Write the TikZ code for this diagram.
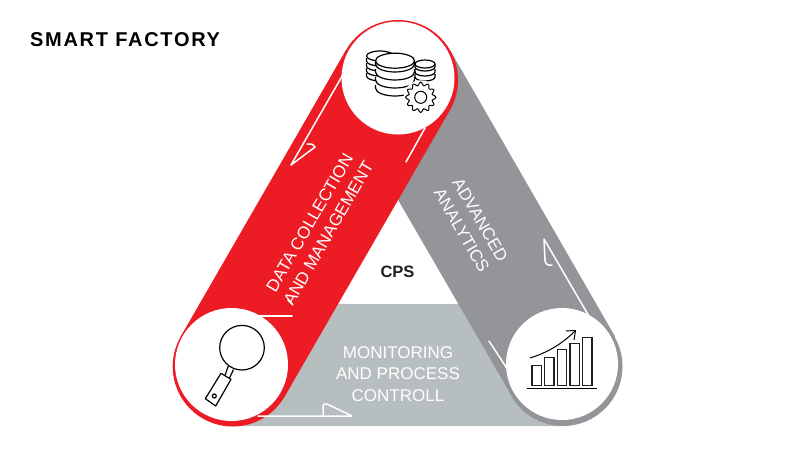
\documentclass[tikz,border=0pt]{standalone}
\usepackage{fontspec}
\setmainfont{Liberation Sans}
\definecolor{fred}{HTML}{ED1C24}
\definecolor{fgrey}{HTML}{939598}
\definecolor{flight}{HTML}{B7BEC0}
\definecolor{ink}{HTML}{231F20}
\newcommand{\bowl}[4]{\draw[icon,fill=white] (#1-#3,#2) -- ++(0,3) arc[start angle=180,end angle=0,x radius=#3,y radius=#4] -- ++(0,-3);}
\newcommand{\disc}[4]{\draw[icon,fill=white] (#1,#2) ellipse[x radius=#3,y radius=#4];}
\tikzset{
  icon/.style={draw=black,line width=1.2pt},
  wline/.style={draw=white,line width=1.5pt,line join=round,line cap=round},
  bandtext/.style={text=white,font=\fontsize{17}{21.5}\selectfont,align=center,inner sep=0pt},
}
\begin{document}
\begin{tikzpicture}[x=1pt,y=-1pt]
\useasboundingbox (0,0) rectangle (800,450);
\fill[white] (0,0) rectangle (800,450);
% bands
\fill[flight] (337,304) -- (460,304) -- (564,426) -- (232,426) -- cycle;
\fill[fgrey] (450,50) -- (615,336.5) -- (512,396.5) -- (346,110) -- cycle;
\fill[fgrey] (563,366.5) circle[radius=59.5];
\fill[fred] (346,50) -- (450,110) -- (284.7,396.5) -- (180.7,336.5) -- cycle;
\fill[fred] (398,80) circle[radius=60];
\fill[fred] (232.7,366.5) circle[radius=60];
% white detail lines
\draw[wline] (345,71) -- (291,165) -- (315,147) .. controls (313,144) and (310,143) .. (307,144);
\draw[wline] (406,162) -- (425,128);
\draw[wline] (258,316) -- (292,316);
\draw[wline] (288,300) -- (292,304);
\draw[wline] (258,416) -- (352,416) -- (327,404) .. controls (325,403) and (323,404) .. (323,407) -- (323,416);
\draw[wline] (590,318) -- (544,239) -- (545,260) .. controls (545,264) and (548,266) .. (552,265);
\draw[wline] (489,341) -- (508,370);
% white discs
\fill[white] (398,78) circle[radius=56.5];
\fill[white] (231.5,364.5) circle[radius=56.5];
\fill[white] (562,364) circle[radius=56];
% database icon
\foreach \yy in {73,68,63,58}{\bowl{380}{\yy}{13.5}{5}}
\disc{380}{56}{13.5}{5}
\foreach \yy in {74,69,64}{\bowl{425}{\yy}{10}{4}}
\disc{425}{64}{10}{4}
\foreach \yy in {85,77,69,61}{\bowl{395}{\yy}{19.5}{8}}
\disc{395}{60.7}{19.5}{7.5}
\fill[white] (420.7,97.3) circle[radius=17];
\draw[icon,fill=white,line width=1pt,line join=round]
  plot[samples=73,domain=0:360,smooth,variable=\t] ({420.7+(13.5+1.7*cos(12*\t))*cos(\t)},{97.3+(13.5+1.7*cos(12*\t))*sin(\t)}) -- cycle;
\draw[icon,line width=1pt] (420.7,97.3) circle[radius=6];
% magnifier icon
\draw[icon] (242,347.7) circle[radius=22.3];
\draw[icon] (228.3,366) -- (225,375.3) (233.5,369.5) -- (229.5,378);
\draw[icon,line join=round] (221,373.3) -- (231,379.3) -- (215.7,406) -- (205.3,398.7) -- cycle;
\draw[icon] (214.3,396) circle[radius=2];
% chart icon
\foreach \xa/\xb/\ya in {532/541.3/365.7,544.7/554/357.3,557.3/566.7/349.3,570/579.3/343.3,582.7/592/337.3}{
  \draw[icon,draw=ink] (\xa,\ya) rectangle (\xb,385.3);}
\draw[icon] (526.7,388.7) -- (597.3,388.7);
\draw[icon,line width=1pt] (530,358) .. controls (546,353) and (561,345) .. (575,331);
\draw[icon,line width=1pt,line join=round] (566,331) -- (575.5,330.5) -- (574,340);
% text
\node[anchor=west,inner sep=0pt,font=\fontsize{20}{22}\selectfont\bfseries\addfontfeatures{LetterSpace=8.5},text=black] (title) at (30,40) {SMART FACTORY};
\node[text=ink,inner sep=0pt,font=\fontsize{16.5}{19}\selectfont\bfseries] (cps) at (397.5,272) {CPS};
\node[bandtext,rotate=60] (data) at (319,228) {DATA COLLECTION\\AND MANAGEMENT};
\node[bandtext,rotate=-60] (adv) at (471,225) {ADVANCED\\ANALYTICS};
\node[bandtext] (mon) at (398,374) {MONITORING\\AND PROCESS\\CONTROLL};
\end{tikzpicture}
\end{document}
